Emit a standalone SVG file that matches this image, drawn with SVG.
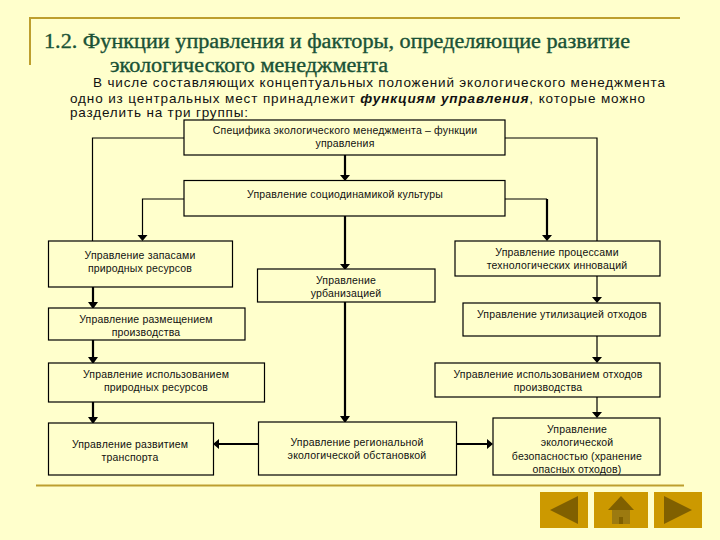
<svg xmlns="http://www.w3.org/2000/svg" width="720" height="540" viewBox="0 0 720 540">
<style>
.t{font-family:"Liberation Serif",serif;font-size:20px;font-weight:normal;fill:#1a5236;stroke:#1a5236;stroke-width:.35}
.b{font-family:"Liberation Sans",sans-serif;font-size:13.5px;fill:#111}
.l{font-family:"Liberation Sans",sans-serif;font-size:10.5px;letter-spacing:.17px;fill:#111;text-anchor:middle}
.n rect{fill:#ffffcc;stroke:#000;stroke-width:1.2}
.c1{fill:none;stroke:#000;stroke-width:1.2}
.c2{fill:none;stroke:#000;stroke-width:2.2}
.a{fill:#000}
.btn{fill:#cc9900}
.ic{fill:#806000}
</style>
<rect width="720" height="540" fill="#ffffcc"/>
<g id="frame" fill="none" stroke="#bd9f2e" stroke-width="2">
<path d="M30 65V18H680"/>
<path d="M36 485.5H684"/>
</g>
<text class="t" x="44" y="48" textLength="586" lengthAdjust="spacingAndGlyphs">1.2. Функции управления и факторы, определяющие развитие</text>
<text class="t" x="110" y="72" textLength="278" lengthAdjust="spacingAndGlyphs">экологического менеджмента</text>
<text class="b" x="93" y="87" textLength="572">В числе составляющих концептуальных положений экологического менеджмента</text>
<text class="b" x="70" y="103" textLength="575">одно из центральных мест принадлежит <tspan font-weight="bold" font-style="italic">функциям управления</tspan>, которые можно</text>
<text class="b" x="70" y="117" textLength="178">разделить на три группы:</text>
<g id="connectors">
<path class="c1" d="M184 138H92.5V241M505 138H597V241M184 199H142.5V236M505 199H547M597 276V298M597 336V358M597 397V413"/>
<path class="c2" d="M547 199V236M345 155V175M345 216V264M345 302V417M93 287V303M93 340V358M93 402V418M258 444H218M457 444H488"/>
<path class="a" d="M340 175H350L345 181ZM340 264H350L345 270ZM340 416H350L345 423ZM88 302H98L93 309ZM88 357H98L93 364ZM88 417H98L93 424ZM137.500 235H147.500L142.500 241ZM542 235H552L547 241ZM592 297H602L597 303ZM592 357H602L597 363ZM592 412H602L597 418ZM219 439V449L213 444ZM487 439V449L493 444Z"/>
</g>
<g id="n1" class="n"><rect x="184" y="120" width="321" height="35"/><text class="l" x="345" y="134">Специфика экологического менеджмента – функции</text><text class="l" x="345" y="147">управления</text></g>
<g id="n2" class="n"><rect x="184" y="180.500" width="321" height="35.500"/><text class="l" x="345" y="198">Управление социодинамикой культуры</text></g>
<g id="n3" class="n"><rect x="48.500" y="241" width="184" height="46"/><text class="l" x="140" y="259">Управление запасами</text><text class="l" x="140" y="272">природных ресурсов</text></g>
<g id="n4" class="n"><rect x="257.500" y="269" width="177.500" height="33"/><text class="l" x="346" y="284">Управление</text><text class="l" x="346" y="297">урбанизацией</text></g>
<g id="n5" class="n"><rect x="455" y="241" width="205" height="35"/><text class="l" x="557" y="256">Управление процессами</text><text class="l" x="557" y="269">технологических инноваций</text></g>
<g id="n6" class="n"><rect x="463" y="303" width="197" height="33"/><text class="l" x="562" y="318">Управление утилизацией отходов</text></g>
<g id="n7" class="n"><rect x="48.500" y="308" width="196.500" height="32"/><text class="l" x="146" y="323">Управление размещением</text><text class="l" x="146" y="336">производства</text></g>
<g id="n8" class="n"><rect x="48.500" y="363" width="216" height="39"/><text class="l" x="156" y="378">Управление использованием</text><text class="l" x="156" y="391">природных ресурсов</text></g>
<g id="n9" class="n"><rect x="435" y="363" width="225" height="34"/><text class="l" x="548" y="378">Управление использованием отходов</text><text class="l" x="548" y="391">производства</text></g>
<g id="n10" class="n"><rect x="48.500" y="423" width="165" height="52"/><text class="l" x="130" y="448">Управление развитием</text><text class="l" x="130" y="461">транспорта</text></g>
<g id="n11" class="n"><rect x="258.500" y="422" width="198" height="53"/><text class="l" x="357" y="446">Управление региональной</text><text class="l" x="357" y="459">экологической обстановкой</text></g>
<g id="n12" class="n"><rect x="493" y="418" width="167" height="57"/><text class="l" x="577" y="433">Управление</text><text class="l" x="577" y="446">экологической</text><text class="l" x="577" y="460">безопасностью (хранение</text><text class="l" x="577" y="473">опасных отходов)</text></g>
<g id="nav">
<rect class="btn" x="540" y="492" width="48" height="36"/>
<path class="ic" d="M550 510L578 496V524Z"/>
<rect class="btn" x="594" y="492" width="54" height="36"/>
<path class="ic" d="M608 510L621 496L634 510Z"/>
<rect x="612" y="510" width="18" height="14" fill="#9c7a10"/>
<rect x="619" y="517" width="4" height="7" fill="#806000"/>
<rect class="btn" x="654" y="492" width="48" height="36"/>
<path class="ic" d="M664 496L692 510L664 524Z"/>
</g>
</svg>
